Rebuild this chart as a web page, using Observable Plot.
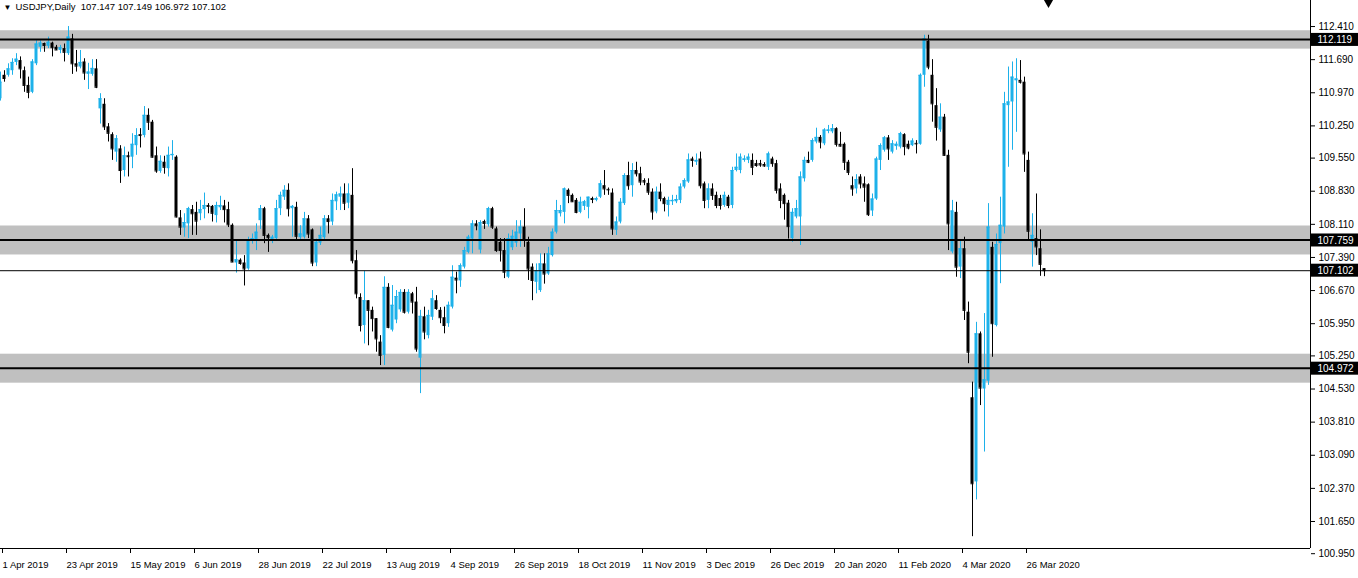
<!DOCTYPE html>
<html><head><meta charset="utf-8">
<script src="https://cdn.jsdelivr.net/npm/d3@7"></script>
<script src="https://cdn.jsdelivr.net/npm/@observablehq/plot@0.6"></script>
<style>body{margin:0;background:#fff;overflow:hidden} #chart{width:1358px;height:578px}</style>
</head><body><div id="chart"></div>
<script>
// ---- Daily USDJPY bars, 1 Apr 2019 .. 2 Apr 2020 (bar index = trading day) ----
const open = [
110.84,111.35,111.35,111.45,111.63,111.67,111.45,111.13,110.98,111.60,
111.96,112.04,111.98,112.05,111.96,111.89,111.93,111.82,112.14,111.60,
111.53,111.64,111.37,111.37,111.49,110.62,110.72,110.23,110.06,109.68,
109.75,109.28,109.60,109.57,109.82,110.06,110.04,110.48,110.33,109.60,
109.26,109.46,109.32,109.60,109.57,108.25,108.03,108.12,108.43,108.37,
108.34,108.43,108.52,108.50,108.30,108.47,108.51,108.43,108.09,107.27,
107.33,107.27,107.14,107.75,107.76,108.19,108.45,107.87,107.78,107.80,
108.45,108.70,108.85,108.45,108.48,107.82,107.83,108.23,107.99,107.27,
107.70,107.82,108.23,108.16,108.60,108.70,108.77,108.57,108.74,107.32,
106.52,105.91,106.45,106.24,106.06,105.55,105.26,106.74,105.81,106.03,
106.25,106.63,106.20,106.60,106.42,105.20,106.10,105.69,106.09,106.45,
106.24,106.08,105.95,106.31,106.94,106.88,107.18,107.50,107.79,108.12,
107.55,108.17,108.10,108.45,108.01,107.72,107.54,106.96,107.60,107.70,
107.90,108.05,107.72,107.18,106.85,106.67,107.25,107.03,107.43,107.94,
108.34,108.37,108.85,108.74,108.63,108.37,108.50,108.48,108.67,108.63,
108.70,108.95,108.87,108.79,107.98,108.16,108.56,109.17,108.95,109.28,
109.21,109.06,109.00,108.81,108.38,108.81,108.67,108.52,108.60,108.60,
108.63,108.92,109.03,109.53,109.46,109.53,108.99,108.63,108.88,108.74,
108.67,108.52,108.70,108.52,109.28,109.28,109.50,109.50,109.50,109.43,
109.43,109.41,109.35,109.53,109.43,108.88,108.74,108.57,107.80,108.27,
108.27,109.10,109.50,109.50,109.90,110.00,109.86,110.13,110.12,110.19,
109.85,109.85,109.46,108.95,108.88,109.14,108.99,108.97,108.40,108.66,
109.50,109.72,109.99,109.68,109.80,109.79,110.06,109.85,109.82,109.87,
109.85,111.35,112.09,111.35,110.69,110.16,110.44,109.61,107.51,108.37,
107.18,107.58,106.20,104.34,102.51,105.73,104.53,104.70,107.61,105.91,
107.69,108.05,110.69,110.77,111.23,111.24,111.20,109.50,107.72,107.80,
107.58,107.147];
const high = [
111.42,111.45,111.60,111.71,111.82,111.75,111.53,111.31,111.69,112.10,
112.10,112.05,112.18,112.07,112.00,112.00,112.03,112.41,112.24,111.89,
111.89,111.71,111.61,111.69,111.69,110.95,110.84,110.30,110.10,110.04,
109.82,109.79,109.68,110.08,110.19,110.19,110.67,110.62,110.37,109.79,
109.60,109.59,109.79,109.93,109.60,108.41,108.34,108.48,108.52,108.59,
108.63,108.79,108.56,108.52,108.59,108.72,108.63,108.59,108.12,107.76,
107.36,107.43,107.83,107.90,108.12,108.52,108.48,107.90,107.87,108.63,
108.81,108.95,108.99,108.52,108.59,108.08,108.37,108.30,108.01,107.79,
108.05,108.30,108.30,108.77,108.81,108.92,108.99,108.99,109.32,107.54,
106.60,107.09,106.45,106.31,106.06,105.69,106.97,106.82,106.78,106.67,
106.69,106.69,106.69,106.63,106.74,106.24,106.31,106.24,106.67,106.56,
106.30,106.31,106.42,107.21,107.07,107.25,107.61,107.87,108.19,108.19,
108.19,108.20,108.48,108.48,108.05,107.80,107.80,107.90,107.98,108.19,
108.19,108.45,107.83,107.25,107.25,107.47,107.47,107.61,108.01,108.63,
108.52,108.90,108.88,108.77,108.67,108.70,108.63,108.70,108.70,108.70,
109.06,109.28,108.90,108.88,108.27,108.67,109.21,109.46,109.43,109.46,
109.35,109.10,109.10,108.88,108.92,108.99,108.70,108.70,108.74,108.74,
108.99,109.10,109.64,109.57,109.64,109.68,109.03,108.99,108.99,108.81,
108.74,108.81,108.74,109.35,109.64,109.64,109.60,109.64,109.64,109.50,
109.50,109.45,109.68,109.57,109.50,108.99,108.77,108.63,108.45,108.63,
109.25,109.57,109.68,109.97,110.20,110.04,110.19,110.26,110.28,110.21,
110.11,109.88,109.50,109.14,109.19,109.19,109.14,108.99,108.77,109.57,
109.86,110.02,110.04,109.93,109.90,110.11,110.08,109.92,109.97,109.93,
111.38,112.22,112.22,111.69,111.06,110.73,110.50,109.72,108.63,108.59,
107.76,107.83,106.42,104.68,105.98,105.77,106.17,108.56,107.72,107.90,
108.70,110.98,111.53,111.64,111.71,111.67,111.31,109.68,108.34,108.77,
107.99,107.149];
const low = [
110.79,111.20,111.31,111.35,111.56,111.27,110.98,110.84,110.95,111.56,
111.85,111.85,111.93,111.75,111.89,111.82,111.64,111.78,111.37,111.42,
111.49,111.24,111.04,111.33,111.06,110.29,110.15,109.90,109.50,109.46,
109.00,109.14,109.14,109.32,109.61,109.77,109.99,110.15,109.55,109.22,
109.22,109.20,109.14,109.50,108.25,107.87,107.83,107.80,107.87,107.87,
108.19,108.23,108.34,108.16,108.14,108.41,108.14,108.04,107.28,107.05,
107.22,106.77,107.11,107.68,107.54,108.00,107.69,107.50,107.69,107.76,
108.30,108.63,108.27,107.83,107.77,107.77,107.79,107.80,107.19,107.19,
107.65,107.76,107.90,108.08,108.41,108.41,108.41,108.45,107.25,106.49,
105.77,105.51,105.47,105.77,105.33,105.04,105.04,105.84,105.77,105.95,
106.20,106.16,106.16,106.16,105.33,104.43,105.60,105.62,106.02,106.24,
105.95,105.73,105.87,106.27,106.60,106.74,107.14,107.47,107.47,107.97,
107.47,108.00,108.05,108.00,107.50,107.29,106.93,106.93,107.54,107.61,
107.61,107.61,106.89,106.45,106.60,106.63,106.81,107.00,107.40,107.90,
108.27,108.12,108.56,108.59,108.34,108.34,108.41,108.23,108.56,108.60,
108.67,108.74,108.74,107.87,107.87,108.12,108.52,108.85,108.70,109.14,
108.95,108.95,108.74,108.20,108.34,108.60,108.38,108.27,108.52,108.56,
108.56,108.88,109.00,109.35,109.39,108.88,108.45,108.45,108.63,108.45,
108.42,108.48,108.45,108.45,109.25,109.21,109.46,109.43,109.17,109.35,
109.35,109.35,109.28,109.35,108.77,108.45,108.20,107.79,107.72,108.23,
107.65,109.03,109.43,109.46,109.86,109.75,109.82,110.08,110.08,109.79,
109.79,109.28,109.17,108.72,108.77,108.88,108.59,108.28,108.28,108.63,
109.28,109.68,109.50,109.64,109.72,109.75,109.60,109.73,109.80,109.64,
109.83,111.09,111.47,110.33,109.92,110.11,109.59,107.54,107.47,106.96,
106.93,106.02,105.08,101.32,102.12,104.17,103.16,104.61,105.22,105.88,
106.82,107.90,109.35,109.72,110.11,111.16,109.24,107.76,107.18,107.43,
106.98,106.972];
const close = [
111.20,111.28,111.49,111.63,111.70,111.49,111.13,110.98,111.64,112.03,
112.05,112.00,112.07,111.95,111.90,111.95,111.85,112.18,111.60,111.55,
111.63,111.40,111.42,111.50,111.09,110.84,110.23,110.09,109.75,109.97,
109.28,109.60,109.58,109.85,110.04,110.04,110.48,110.33,109.57,109.27,
109.48,109.35,109.61,109.63,108.27,108.05,108.15,108.45,108.34,108.18,
108.43,108.52,108.50,108.35,108.52,108.52,108.43,108.10,107.29,107.34,
107.26,107.14,107.76,107.80,107.94,108.45,107.87,107.82,107.83,108.45,
108.74,108.85,108.45,108.50,107.85,107.90,108.23,107.90,107.27,107.72,
107.87,108.23,108.17,108.63,108.75,108.77,108.57,108.77,107.32,106.60,
105.91,106.45,106.24,106.06,105.62,105.26,106.74,105.87,106.35,106.54,
106.63,106.20,106.63,106.42,105.40,106.11,105.77,106.13,106.49,106.28,
106.08,105.91,106.35,106.96,106.90,107.21,107.54,107.83,108.12,108.08,
108.15,108.13,108.45,108.05,107.54,107.54,107.07,107.80,107.85,107.94,
108.05,107.76,107.14,106.89,107.10,107.25,107.03,107.47,107.94,108.41,
108.41,108.88,108.74,108.60,108.37,108.59,108.60,108.70,108.65,108.67,
108.99,108.88,108.86,108.01,108.16,108.59,109.17,108.95,109.28,109.21,
109.03,109.03,108.81,108.38,108.81,108.67,108.56,108.63,108.63,108.65,
108.92,109.06,109.51,109.50,109.50,108.95,108.63,108.88,108.74,108.52,
108.52,108.74,108.52,109.28,109.35,109.57,109.53,109.57,109.35,109.39,
109.40,109.38,109.64,109.43,108.85,108.63,108.56,108.06,108.37,108.45,
109.14,109.50,109.46,109.93,110.00,109.90,110.16,110.16,110.19,109.85,
109.81,109.46,109.24,108.88,109.08,108.99,108.92,108.32,108.66,109.53,
109.82,109.99,109.75,109.86,109.85,110.08,109.80,109.77,109.92,109.86,
111.35,112.14,111.53,110.73,110.22,110.44,109.61,108.12,108.40,107.18,
107.58,106.24,105.33,102.47,105.73,104.55,104.73,108.05,105.95,107.67,
108.09,110.73,110.77,111.31,111.27,111.20,109.64,107.96,107.87,107.62,
107.24,107.102];

// ---- axis contents ----
const dateTickBars = [0,16,32,48,64,80,96,112,128,144,160,176,192,208,224,240,256];
const dateTickLabels = ["1 Apr 2019","23 Apr 2019","15 May 2019","6 Jun 2019","28 Jun 2019",
  "22 Jul 2019","13 Aug 2019","4 Sep 2019","26 Sep 2019","18 Oct 2019","11 Nov 2019",
  "3 Dec 2019","26 Dec 2019","20 Jan 2020","11 Feb 2020","4 Mar 2020","26 Mar 2020"];
const priceTicks = [112.410,111.690,110.970,110.250,109.550,108.830,108.110,107.390,
  106.670,105.950,105.250,104.530,103.810,103.090,102.370,101.650,100.950];

// ---- levels drawn on the chart ----
const levelPrices = [112.119, 107.759, 104.972];
const levelBandHalf = [0.20, 0.315, 0.315];
const currentPrice = 107.102;
const titleSymbol = "USDJPY,Daily";
const titleOHLC = "107.147 107.149 106.972 107.102";

// ---- view ----
const barSlots = 327.5;           // visible bar slots incl. right shift
const priceMin = 101.063, priceMax = 112.976;
const bull = "#1DB1EA", bear = "#000000";

const candles = open.map((o, i) => ({i, open: o, high: high[i], low: low[i], close: close[i]}));
const col = d => d.close > d.open ? bull : bear;
const bands = levelPrices.map((p, k) => ({p, lo: p - levelBandHalf[k], hi: p + levelBandHalf[k]}));
const labelTag = levelPrices.concat([currentPrice]);
const tagHalf = 6.5 / (548 / (priceMax - priceMin));
const labelOf = new Map(dateTickBars.map((b, k) => [b, dateTickLabels[k]]));

const chart = Plot.plot({
  width: 1358, height: 578,
  marginLeft: 0, marginRight: 48, marginTop: 0, marginBottom: 30,
  x: {domain: [0, barSlots], axis: null},
  y: {domain: [priceMin, priceMax], axis: null},
  color: {type: "identity"},
  style: {fontFamily: "'Liberation Sans', Arial, sans-serif", fontSize: "10px", background: "#fff", overflow: "visible", color: "#000"},
  marks: [
    Plot.rect(bands, {y1: "lo", y2: "hi", fill: "#c0c0c0"}),
    Plot.ruleX(candles, {x: "i", y1: "low", y2: "high", stroke: col}),
    Plot.rect(candles, {x1: d => d.i - 0.375, x2: d => d.i + 0.375, y1: "open", y2: "close", fill: col}),
    Plot.ruleY(candles, {x1: d => d.i - 0.375, x2: d => d.i + 0.375, y: "close", stroke: col}),
    Plot.ruleY(levelPrices, {stroke: "#000", strokeWidth: 2, dy: -0.5}),
    Plot.ruleY([currentPrice], {stroke: "#000", strokeWidth: 1}),
    // axes frame
    Plot.ruleX([barSlots], {stroke: "#000"}),
    Plot.ruleY([priceMin], {stroke: "#000"}),
    Plot.axisY({anchor: "right", label: null, ticks: priceTicks, tickFormat: d => d.toFixed(3), tickSize: 4, tickPadding: 4, fill: "#000"}),
    Plot.axisX({label: null, ticks: dateTickBars, tickFormat: d => labelOf.get(d), tickSize: 5, tickPadding: 8, textAnchor: "start", dx: 2, fontSize: 9.5, fill: "#000"}),
    // price tags on the right scale
    Plot.rect(labelTag, {x1: barSlots, x2: barSlots + 12, y1: d => d - tagHalf, y2: d => d + tagHalf, fill: "#000"}),
    Plot.text(labelTag, {x: barSlots, y: d => d, text: d => d.toFixed(3), textAnchor: "start", dx: 7, fill: "#fff"}),
    // title and shift marker
    Plot.text(["▼"], {frameAnchor: "top-left", dx: 3, dy: 4, fontSize: 8, textAnchor: "start", lineAnchor: "top"}),
    Plot.text([titleSymbol + "  " + titleOHLC], {frameAnchor: "top-left", dx: 15, dy: 3, fontSize: 9.5, textAnchor: "start", lineAnchor: "top"}),
    Plot.dot([open.length], {x: d => d, frameAnchor: "top", symbol: "triangle", r: 3.5, rotate: 180, fill: "#000", dy: 2})
  ]
});
document.getElementById("chart").appendChild(chart);
</script></body></html>
